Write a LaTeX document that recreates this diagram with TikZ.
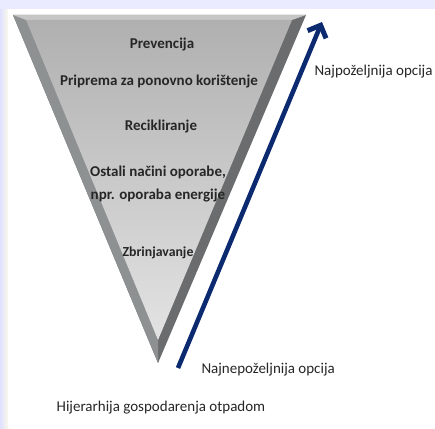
\documentclass[tikz,border=0pt]{standalone}
\usepackage{fontspec}
\setmainfont{Carlito}
\usetikzlibrary{arrows.meta}
\definecolor{navy}{HTML}{0B2A6F}
\definecolor{edgeL}{HTML}{8E9192}
\definecolor{edgeR}{HTML}{6A6C6D}
\begin{document}
\begin{tikzpicture}[x=1pt, y=-1pt,
    level/.style={align=center, font=\bfseries\fontsize{15}{23}\selectfont, text=black!85},
    note/.style={font=\fontsize{15}{18}\selectfont, text=black!85, anchor=west},
    flow/.style={-{Straight Barb[length=10pt, width=20pt, line width=5pt]}, line width=4.6pt, navy}]

    % Background and panel
    \useasboundingbox (0,0) rectangle (435,428);
    \shade[left color=blue!12, right color=yellow!10] (0,0) rectangle (10,428);
    \fill[blue!8] (0,0) rectangle (435,9);
    \fill[white] (8,9) rectangle (435,428);

    % Inverted pyramid with bevelled edges
    \fill[edgeR] (13,15) -- (306,15) -- (158,363) -- cycle;
    \fill[edgeL] (13,15) -- (158,363) -- (158,340) -- (26,20) -- cycle;
    \fill[gray!45] (13,15) -- (306,15) -- (292,20) -- (26,20) -- cycle;
    \shade[top color=gray!62, bottom color=gray!22] (26,20) -- (292,20) -- (158,340) -- cycle;

    % Levels of the hierarchy
    \node[level] (prev) at (162,45) {Prevencija};
    \node[level] (prep) at (159,82) {Priprema za ponovno korištenje};
    \node[level] (recy) at (161,127) {Recikliranje};
    \node[level] (other) at (158,184) {Ostali načini oporabe,\\npr. oporaba energije};
    \node[level, font=\bfseries\fontsize{13.8}{16}\selectfont] (disp) at (158,253) {Zbrinjavanje};

    % Preference arrow
    \coordinate (low) at (178,368);
    \coordinate (high) at (322,22);
    \draw[flow] (low) -- (high);
    \node[note] (best) at (311,72) {Najpoželjnija opcija};
    \node[note] (worst) at (198,370) {Najnepoželjnija opcija};

    % Caption
    \node[note, anchor=center] (caption) at (161,408) {Hijerarhija gospodarenja otpadom};
\end{tikzpicture}
\end{document}
